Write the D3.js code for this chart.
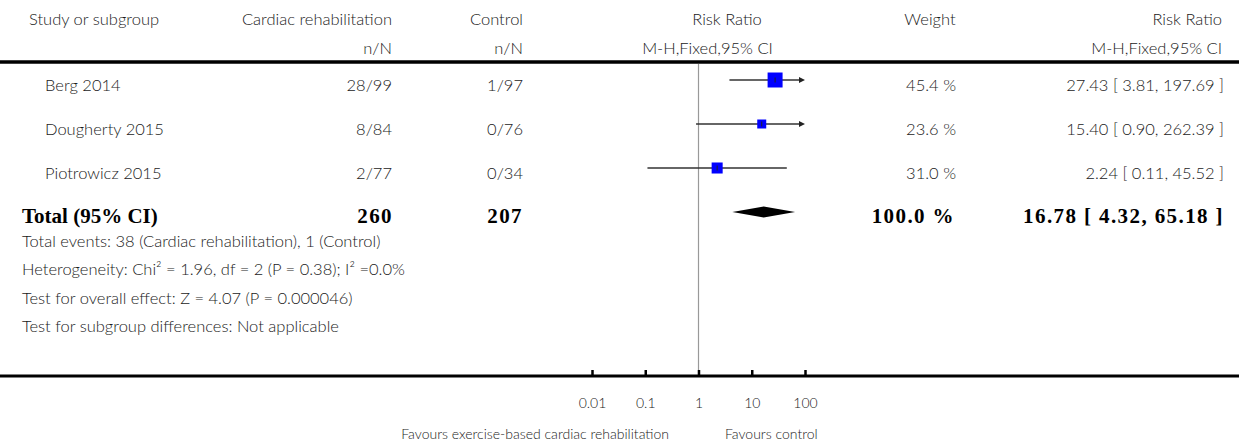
<!DOCTYPE html>
<html>
<head>
<meta charset="utf-8">
<script src="https://cdn.jsdelivr.net/npm/d3@7"></script>
<style>
  html, body { margin: 0; padding: 0; background: #fff; }
  svg { display: block; }
  .sans { font-family: Lato, "Open Sans", sans-serif; font-weight: 300; fill: #1a1a1a; }
  .serif { font-family: "Liberation Serif", "DejaVu Serif", serif; font-weight: bold; fill: #000; }
  .num { letter-spacing: 1.4px; }
</style>
</head>
<body>
<svg id="chart" width="1239" height="445"></svg>
<script>
// ---- data ----
const studies = ["Berg 2014", "Dougherty 2015", "Piotrowicz 2015"];
const crEvents = ["28/99", "8/84", "2/77"];
const ctrlEvents = ["1/97", "0/76", "0/34"];
const rr = [27.43, 15.40, 2.24];
const rrLow = [3.81, 0.90, 0.11];
const rrHigh = [197.69, 262.39, 45.52];
const weights = [45.4, 23.6, 31.0];
const totalLabel = "Total (95% CI)";
const totalCR = "260";
const totalCtrl = "207";
const totalWeight = 100.0;
const totalRR = 16.78, totalLow = 4.32, totalHigh = 65.18;
const footnotes = [
  "Total events: 38 (Cardiac rehabilitation), 1 (Control)",
  "Heterogeneity: Chi² = 1.96, df = 2 (P = 0.38); I² =0.0%",
  "Test for overall effect: Z = 4.07 (P = 0.000046)",
  "Test for subgroup differences: Not applicable"
];
const tickValues = [0.01, 0.1, 1, 10, 100];
const tickLabels = ["0.01", "0.1", "1", "10", "100"];
const favourLeft = "Favours exercise-based cardiac rehabilitation";
const favourRight = "Favours control";

// ---- layout ----
const W = 1239, H = 445;
const svg = d3.select("#chart");
const x = d3.scaleLog().domain([0.01, 100]).range([592, 805]);
const rowY = d3.scaleLinear().domain([0, 1]).range([80, 124]); // 44px per row
const totalY = 212;
const axisY = 376;
const fs = 16.5;
const size = d3.scaleLinear().domain([0, 100]).range([2.5, 30]);
const fmt = v => v.toFixed(2);

const colStudyHeader = 29, colStudy = 45, colTotal = 22;
const colCR = 392, colCtrl = 523, colW = 956, colRR = 1224;

function txt(xp, yp, s, anchor, cls, size_) {
  return svg.append("text").attr("x", xp).attr("y", yp)
    .attr("text-anchor", anchor || "start").attr("class", cls || "sans")
    .attr("font-size", size_ || fs).text(s);
}

// headers
txt(colStudyHeader, 25, "Study or subgroup");
txt(colCR, 25, "Cardiac rehabilitation", "end");
txt(colCtrl, 25, "Control", "end");
txt(727, 25, "Risk Ratio", "middle");
txt(930, 25, "Weight", "middle");
txt(1222, 25, "Risk Ratio", "end");
txt(colCR, 54, "n/N", "end");
txt(colCtrl, 54, "n/N", "end");
txt(707.5, 54, "M-H,Fixed,95% CI", "middle");
txt(1222, 54, "M-H,Fixed,95% CI", "end");

// header rule
svg.append("line").attr("x1", 0).attr("x2", W).attr("y1", 62).attr("y2", 62)
  .attr("stroke", "#000").attr("stroke-width", 3.5);

// reference line at 1
svg.append("line").attr("x1", x(1)).attr("x2", x(1)).attr("y1", 64).attr("y2", axisY)
  .attr("stroke", "#999").attr("stroke-width", 1.2);

// study rows
studies.forEach((s, i) => {
  const y = rowY(i);
  const ty = y + 11;
  txt(colStudy, ty, s);
  txt(colCR, ty, crEvents[i], "end");
  txt(colCtrl, ty, ctrlEvents[i], "end");
  txt(colW, ty, weights[i].toFixed(1) + " %", "end");
  txt(colRR, ty, `${fmt(rr[i])} [ ${fmt(rrLow[i])}, ${fmt(rrHigh[i])} ]`, "end");

  const [d0, d1] = x.domain();
  const lo = Math.max(rrLow[i], d0), hi = Math.min(rrHigh[i], d1);
  const x1 = x(lo), x2 = x(hi);
  svg.append("line").attr("x1", x1).attr("x2", x2 - (rrHigh[i] > d1 ? 4 : 0))
    .attr("y1", y).attr("y2", y).attr("stroke", "#333").attr("stroke-width", 1.4);
  if (rrHigh[i] > d1) {
    svg.append("path").attr("d", `M${x2},${y} L${x2 - 6},${y - 3} L${x2 - 6},${y + 3} Z`)
      .attr("fill", "#222");
  }
  if (rrLow[i] < d0) {
    svg.append("path").attr("d", `M${x1},${y} L${x1 + 6},${y - 3} L${x1 + 6},${y + 3} Z`)
      .attr("fill", "#222");
  }
  const sz = size(weights[i]);
  svg.append("rect").attr("x", x(rr[i]) - sz / 2).attr("y", y - sz / 2)
    .attr("width", sz).attr("height", sz).attr("fill", "#0000ff");
  svg.append("line").attr("x1", x(rr[i])).attr("x2", x(rr[i]))
    .attr("y1", y - 2.5).attr("y2", y + 2.5).attr("stroke", "#222").attr("stroke-width", 1);
});

// total row
const tty = 223, tfs = 21;
txt(colTotal, tty, totalLabel, "start", "serif", tfs);
txt(colCR + 1, tty, totalCR, "end", "serif num", tfs);
txt(colCtrl, tty, totalCtrl, "end", "serif num", tfs);
txt(955, tty, totalWeight.toFixed(1) + " %", "end", "serif num", tfs);
txt(colRR, tty, `${fmt(totalRR)} [ ${fmt(totalLow)}, ${fmt(totalHigh)} ]`, "end", "serif num", tfs);
svg.append("path")
  .attr("d", `M${x(totalLow)},${totalY} L${x(totalRR)},${totalY - 5.5} L${x(totalHigh)},${totalY} L${x(totalRR)},${totalY + 5.5} Z`)
  .attr("fill", "#000");

// footnotes
footnotes.forEach((f, i) => {
  txt(colTotal, 247 + i * 28.4, f);
});

// axis
svg.append("line").attr("x1", 0).attr("x2", W).attr("y1", axisY).attr("y2", axisY)
  .attr("stroke", "#000").attr("stroke-width", 3);
const axis = d3.axisBottom(x).tickValues(tickValues).tickFormat((d, i) => tickLabels[i])
  .tickSize(0).tickPadding(0);
const ag = svg.append("g").attr("transform", `translate(0,${axisY})`).call(axis);
ag.select(".domain").remove();
ag.selectAll(".tick line").remove();
ag.selectAll(".tick").append("line").attr("y1", -6).attr("y2", 0)
  .attr("stroke", "#000").attr("stroke-width", 2.5);
ag.selectAll(".tick text").attr("y", 32).attr("dy", 0)
  .attr("font-family", "Lato, 'Open Sans', sans-serif").attr("font-weight", 300)
  .attr("font-size", 14).attr("fill", "#1a1a1a");

txt(669, 439, favourLeft, "end", "sans", 14);
txt(725, 439, favourRight, "start", "sans", 14);
</script>
</body>
</html>
